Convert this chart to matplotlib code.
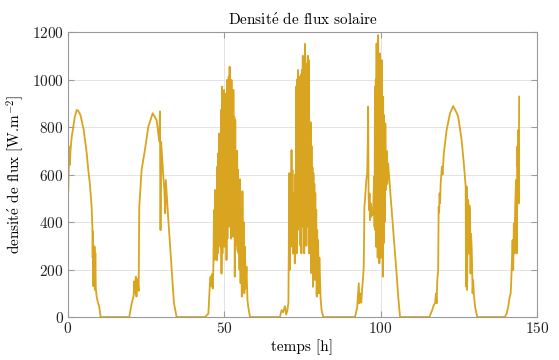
import numpy as np
import matplotlib
matplotlib.use("Agg")
import matplotlib.pyplot as plt

# temps [h] et densite de flux [W/m2], jour par jour
t_j1 = [0, 0.1, 0.3, 0.4, 0.6, 0.8, 1.2, 1.7, 2.2, 2.8, 3.3, 4.0, 5.0, 6.0, 6.5, 7.0, 7.57,
        7.8, 7.9, 8.0, 8.1, 8.2, 8.35, 8.5, 8.6, 8.75, 8.9, 9.17, 9.6, 10.0, 10.45, 19.6]
q_j1 = [540, 530, 650, 717, 640, 700, 759, 800, 843, 872, 868, 850, 790, 690, 619, 560, 464,
        380, 250, 360, 130, 300, 150, 296, 114, 270, 120, 86, 60, 43, 0, 0]

t_j2 = [20.4, 21.0, 21.2, 21.4, 21.7, 21.9, 22.1, 22.4, 22.6, 22.8, 23.55, 24.6, 25.7, 27.1,
        28.35, 28.9, 29.2, 29.4, 29.6, 29.8, 30.5, 30.8, 31.1, 31.3, 32.1, 33.2, 33.9, 34.75, 43.8]
q_j2 = [58, 90, 150, 100, 170, 86, 160, 143, 110, 464, 619, 703, 801, 858,
        829, 773, 740, 866, 366, 737, 591, 540, 437, 577, 408, 198, 58, 0, 0]

t_j3 = [44.9, 45.4, 45.6, 45.8, 46.0, 46.3, 46.5, 46.7, 46.9, 47.0, 47.2, 47.4, 47.6, 47.75,
        47.9, 48.1, 48.25, 48.4, 48.55, 48.7, 48.85, 49.0, 49.1, 49.25, 49.4, 49.55, 49.7, 49.9,
        50.05, 50.2, 50.35, 50.5, 50.7, 50.85, 51.0, 51.2, 51.4, 51.55, 51.7, 51.85, 52.0, 52.15,
        52.3, 52.45, 52.6, 52.75, 52.9, 53.05, 53.2, 53.35, 53.5, 53.65, 53.8, 53.95, 54.1, 54.25,
        54.4, 54.55, 54.7, 54.85, 55.0, 55.2, 55.4, 55.6, 55.8, 56.0, 56.2, 56.4, 56.6, 56.8,
        57.1, 57.4, 57.7, 58.2, 67.8]
q_j3 = [14, 142, 170, 130, 180, 120, 212, 450, 240, 535, 280, 500, 239, 633,
        268, 690, 300, 773, 338, 600, 290, 872, 183, 970, 268, 890, 320, 956,
        296, 800, 350, 940, 240, 998, 330, 900, 1012, 380, 1054, 420, 960, 330,
        998, 500, 920, 338, 956, 420, 843, 170, 830, 300, 660, 493, 700, 280,
        620, 268, 535, 200, 580, 142, 450, 86, 530, 198, 400, 100, 296, 120,
        212, 72, 40, 0, 0]

t_j4 = [68.3, 68.8, 69.4, 69.8, 70.2, 70.5, 70.8, 70.95, 71.2, 71.35, 71.5, 71.65, 71.8, 71.95,
        72.1, 72.25, 72.4, 72.55, 72.7, 72.85, 73.0, 73.15, 73.3, 73.45, 73.6, 73.75, 73.9, 74.05,
        74.2, 74.35, 74.5, 74.65, 74.8, 74.95, 75.1, 75.25, 75.4, 75.55, 75.8, 75.95, 76.1, 76.25,
        76.4, 76.55, 76.7, 76.85, 77.0, 77.15, 77.3, 77.45, 77.6, 77.75, 77.9, 78.05, 78.2, 78.35,
        78.5, 78.65, 78.8, 78.95, 79.1, 79.25, 79.4, 79.55, 79.7, 79.85, 80.0, 80.2, 80.4, 80.6,
        80.8, 81.1, 81.65, 91.8]
q_j4 = [29, 20, 46, 10, 30, 60, 606, 198, 521, 300, 703, 296, 619, 267,
        521, 350, 480, 226, 600, 280, 970, 268, 1000, 365, 1040, 422, 1012, 394,
        980, 300, 1020, 268, 1040, 500, 1100, 380, 1000, 268, 1150, 450, 1068, 300,
        970, 500, 1100, 380, 1082, 268, 690, 420, 820, 185, 720, 338, 630, 127,
        605, 267, 560, 156, 521, 200, 450, 86, 366, 120, 324, 100, 250, 170,
        80, 29, 0, 0]

t_j5 = [92.5, 93.0, 93.2, 93.5, 93.8, 94.1, 94.4, 94.6, 94.8, 95.0, 95.2, 95.45, 95.7, 95.85,
        96.0, 96.15, 96.3, 96.45, 96.6, 96.8, 97.0, 97.2, 97.4, 97.6, 97.9, 98.05, 98.2, 98.3,
        98.45, 98.55, 98.7, 98.8, 98.95, 99.05, 99.2, 99.35, 99.5, 99.6, 99.75, 99.9, 100.05,
        100.15, 100.3, 100.45, 100.6, 100.7, 100.8, 100.95, 101.1, 101.3, 101.5, 101.7, 101.9,
        102.1, 102.4, 103.0, 104.0, 105.0, 105.6, 106.2, 115.6]
q_j5 = [40, 142, 58, 100, 60, 120, 170, 212, 464, 493, 535, 580, 605, 700,
        886, 507, 450, 520, 408, 478, 422, 460, 430, 450, 591, 380, 970, 366,
        1000, 296, 1152, 500, 1100, 250, 1187, 600, 1050, 226, 1110, 408, 1000,
        250, 1082, 254, 900, 170, 927, 310, 850, 400, 815, 535, 700,
        560, 647, 540, 370, 200, 90, 0, 0]

t_j6 = [116.5, 117.0, 117.4, 117.7, 117.9, 118.1, 118.4, 118.55, 118.7, 118.85, 119.0, 119.2,
        119.4, 119.6, 119.8, 120.2, 121.1, 122.2, 123.2, 124.3, 124.8, 125.9, 126.6, 127.2,
        127.3, 127.5, 127.65, 127.8, 128.0, 128.15, 128.4, 128.6, 128.75, 128.9, 129.1, 129.25,
        129.4, 129.6, 129.8, 130.2, 130.9, 139.75]
q_j6 = [30, 50, 58, 100, 58, 150, 198, 464, 440, 520, 480, 563,
        600, 633, 600, 689, 787, 858, 888, 860, 843, 745, 647, 549,
        128, 549, 114, 450, 493, 267, 470, 436, 183, 350, 296, 220,
        100, 155, 100, 43, 0, 0]

t_j7 = [140.3, 140.8, 141.3, 141.6, 141.9, 142.2, 142.4, 142.6, 142.8, 143.0, 143.3, 143.5,
        143.7, 143.85, 144.0, 144.15, 144.3]
q_j7 = [15, 43, 86, 100, 198, 324, 198, 394, 268, 450, 577, 268,
        717, 633, 787, 478, 928]

temps = np.array(t_j1 + t_j2 + t_j3 + t_j4 + t_j5 + t_j6 + t_j7)
flux = np.array(q_j1 + q_j2 + q_j3 + q_j4 + q_j5 + q_j6 + q_j7)

plt.rcParams['font.family'] = 'serif'
plt.rcParams['font.serif'] = ['cmr10']
plt.rcParams['mathtext.fontset'] = 'cm'
plt.rcParams['axes.formatter.use_mathtext'] = True

fig = plt.figure(figsize=(5.59, 3.6), dpi=100)
ax = fig.add_axes([0.1216, 0.1194, 0.8390, 0.7917])

ax.plot(temps, flux, color='#D9A520', lw=1.3)

ax.set_xlim(0, 150)
ax.set_ylim(0, 1200)
ax.set_xticks([0, 50, 100, 150])
ax.set_yticks(np.arange(0, 1201, 200))
ax.grid(True, color='#e3e3e3', lw=0.7)
ax.set_axisbelow(True)
for s in ax.spines.values():
    s.set_color('#9a9a9a')
    s.set_linewidth(0.8)
ax.tick_params(direction='in', top=True, right=True, length=4, width=0.8,
               color='#9a9a9a', labelsize=11, labelcolor='#222222', pad=3)

ax.set_title(r'Densit$\acute{\mathrm{e}}$ de flux solaire', fontsize=11, pad=6)
ax.set_xlabel('temps [h]', fontsize=11, labelpad=2)
ax.set_ylabel(r'densit$\acute{\mathrm{e}}$ de flux [W.m$^{-2}$]', fontsize=11, labelpad=4)

fig.savefig('out.png', dpi=100)
